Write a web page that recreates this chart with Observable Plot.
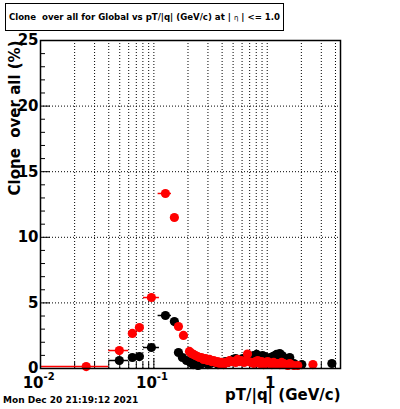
<!DOCTYPE html>
<html><head><meta charset="utf-8">
<script src="https://cdn.jsdelivr.net/npm/d3@7"></script>
<script src="https://cdn.jsdelivr.net/npm/@observablehq/plot@0.6"></script>
<style>
body{margin:0;background:#fff;}
#wrap{position:relative;width:400px;height:409px;font-family:"DejaVu Sans",sans-serif;}
#title{position:absolute;left:5px;top:3px;width:277px;height:26px;border:1px solid #000;background:#fff;
 font-weight:bold;font-size:8.6px;line-height:26px;white-space:pre;text-align:center;}
#title .eta{font-weight:normal;font-size:7px;}
#date{position:absolute;left:3px;top:395px;font-weight:bold;font-size:9px;white-space:pre;}
</style></head>
<body><div id="wrap"><div id="chart"></div>
<div id="title">Clone  over all for Global vs pT/|q| (GeV/c) at | <span class="eta">η</span> | &lt;= 1.0</div>
<div id="date">Mon Dec 20 21:19:12 2021</div></div>
<script>
// Red series
const redPt  = [0.0253,0.0496,0.0646,0.0745,0.0951,0.1265,0.1517,0.1648,0.1824,0.206,0.215,0.224,0.233,0.243,0.253,0.263,0.274,0.286,0.298,0.310,0.323,0.337,0.351,0.365,0.380,0.395,0.412,0.430,0.448,0.466,0.486,0.506,0.527,0.548,0.571,0.594,0.625,0.650,0.670,0.720,0.760,0.790,0.824,0.860,0.893,0.930,0.970,1.01,1.05,1.10,1.14,1.19,1.24,1.29,1.34,1.40,1.46,1.52,1.58,1.72,1.86,2.53];
const redVal = [0.15,1.37,2.67,3.12,5.41,13.34,11.51,3.20,2.52,1.30,1.15,1.07,0.99,0.91,0.84,0.84,0.69,0.76,0.61,0.69,0.53,0.61,0.46,0.53,0.38,0.46,0.30,0.46,0.46,0.61,0.53,0.53,0.46,0.69,0.53,0.61,0.46,0.53,1.10,0.46,0.38,0.53,0.61,0.38,0.53,0.30,0.46,0.53,0.38,0.30,0.46,0.38,0.38,0.30,0.46,0.38,0.30,0.23,0.38,0.23,0.23,0.30];
// bin edges drawn as horizontal error bars (only where visible)
const redErrPt = [0.0253,0.0496,0.0951,0.1265];
const redErrLo = [0.01,0.04,0.081,0.109];
const redErrHi = [0.04,0.06,0.112,0.143];
const redErrVal = [0.15,1.37,5.41,13.34];
// Black series
const blackPt  = [0.0496,0.0646,0.0745,0.0951,0.1265,0.1517,0.1648,0.1786,0.194,0.210,0.222,0.233,0.245,0.258,0.272,0.286,0.300,0.316,0.333,0.350,0.368,0.387,0.410,0.430,0.450,0.475,0.500,0.526,0.550,0.582,0.610,0.646,0.680,0.714,0.760,0.807,0.840,0.875,0.910,0.951,0.990,1.03,1.07,1.12,1.17,1.21,1.25,1.29,1.35,1.40,1.48,1.58,1.72,2.02,3.72];
const blackVal = [0.61,0.84,0.91,1.60,4.04,3.58,1.22,0.84,0.61,0.46,0.30,0.38,0.23,0.30,0.46,0.53,0.30,0.38,0.53,0.46,0.30,0.38,0.46,0.53,0.46,0.61,0.69,0.76,0.61,0.69,0.76,0.61,0.69,0.53,0.99,1.07,0.91,0.84,0.99,0.91,0.61,0.76,0.84,0.91,0.99,1.07,0.84,1.14,0.99,0.84,0.69,0.84,0.38,0.30,0.38];
const blackErrLo = [0.04,0.081,0.109];
const blackErrHi = [0.06,0.112,0.143];
const blackErrVal = [0.61,1.60,4.04];
// axes
const xDomain = [0.01, 4.43];
const yDomain = [0, 25];
const xGrid = [0.02,0.03,0.04,0.05,0.06,0.07,0.08,0.09,0.1,0.2,0.3,0.4,0.5,0.6,0.7,0.8,0.9,1,2,3,4];
const xMajor = [0.1, 1];
const yMajor = [0,5,10,15,20,25];
const yGrid = [5,10,15,20];
const yMinor = d3.range(0,26).filter(v => v % 5 !== 0);
const xLabelVals = [0.01, 0.1];
const xLabelExp = ["-2","-1"];
const xLabelOne = [1];
const yTitle = "Clone  over all (%)";
const xTitle = "pT/|q| (GeV/c)";

const red = redPt.map((p,i)=>({x:p,y:redVal[i]}));
const black = blackPt.map((p,i)=>({x:p,y:blackVal[i]}));
const redErr = redErrPt.map((p,i)=>({y:redErrVal[i],x1:redErrLo[i],x2:redErrHi[i]}));
const blackErr = blackErrVal.map((v,i)=>({y:v,x1:blackErrLo[i],x2:blackErrHi[i]}));
const xMinor = xGrid.filter(v => !xMajor.includes(v));
const bold = {fontWeight:"bold", fill:"black"};

const chart = Plot.plot({
  width: 400, height: 409,
  marginLeft: 40, marginRight: 60, marginTop: 40, marginBottom: 41,
  style: {fontFamily: "DejaVu Sans", background: "white", overflow: "visible"},
  x: {type: "log", domain: xDomain, axis: null},
  y: {domain: yDomain, axis: null},
  marks: [
    Plot.ruleX(xGrid, {x: d=>d, stroke:"black", strokeDasharray:"1,2"}),
    Plot.ruleY(yGrid, {y: d=>d, stroke:"black", strokeDasharray:"1,2"}),
    Plot.tickX(xMinor, {x: d=>d, insetTop: 322, stroke:"black"}),
    Plot.tickX(xMajor, {x: d=>d, insetTop: 318, stroke:"black"}),
    Plot.tickY(yMajor, {y: d=>d, insetRight: 290, stroke:"black"}),
    Plot.tickY(yMinor, {y: d=>d, insetRight: 295, stroke:"black"}),
    Plot.ruleY(blackErr, {y:"y", x1:"x1", x2:"x2", stroke:"black", strokeWidth:1.5}),
    Plot.dot(black, {x:"x", y:"y", r:4.6, fill:"black"}),
    Plot.ruleY(redErr, {y:"y", x1:"x1", x2:"x2", stroke:"red", strokeWidth:1.5}),
    Plot.dot(red, {x:"x", y:"y", r:4.6, fill:"red"}),
    Plot.frame({stroke:"black", strokeWidth:1.5}),
    Plot.text(yMajor, {y: d=>d, text: d=>String(d), frameAnchor:"left", textAnchor:"end", dx:-2, fontSize:15, ...bold}),
    Plot.text(xLabelVals, {x: d=>d, text: ()=>"10", frameAnchor:"bottom", textAnchor:"end", lineAnchor:"bottom", dy:19, dx:3, fontSize:15, ...bold}),
    Plot.text(xLabelVals, {x: d=>d, text: (d,i)=>xLabelExp[i], frameAnchor:"bottom", textAnchor:"start", lineAnchor:"bottom", dy:11, dx:3, fontSize:10, ...bold}),
    Plot.text(xLabelOne, {x: d=>d, text: d=>String(d), frameAnchor:"bottom", textAnchor:"middle", lineAnchor:"bottom", dy:19, dx:3, fontSize:15, ...bold}),
    Plot.text([xTitle], {frameAnchor:"bottom-right", textAnchor:"end", lineAnchor:"bottom", dy:31, fontSize:15, ...bold}),
    Plot.text([yTitle], {frameAnchor:"top-left", textAnchor:"end", lineAnchor:"middle", rotate:-90, dx:-25, fontSize:15, ...bold})
  ]
});
document.getElementById("chart").appendChild(chart);
</script></body></html>
